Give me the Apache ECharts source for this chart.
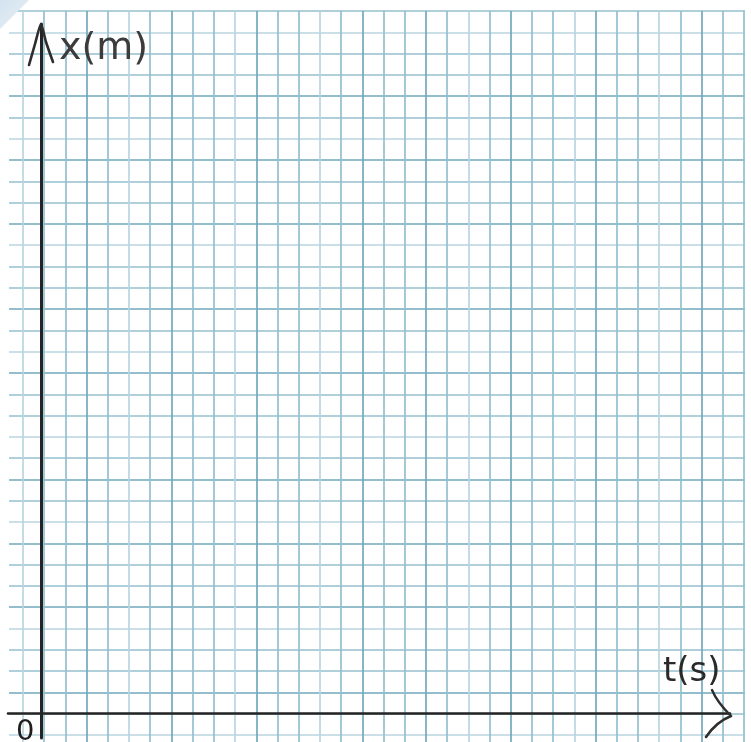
<!DOCTYPE html>
<html>
<head>
<meta charset="utf-8">
<script src="https://cdn.jsdelivr.net/npm/echarts@6/dist/echarts.min.js"></script>
<style>
  html, body { margin: 0; padding: 0; background: #ffffff; }
  #chart { width: 751px; height: 742px; }
</style>
</head>
<body>
<div id="chart"></div>
<script>
// Graph paper: number of cells along each side
const cellCount = [34];
// Axis captions and origin mark
const positionAxisName = ['x(m)'];
const timeAxisName = ['t(s)'];
const originLabel = ['0'];

// Ruling shades (light / medium / dark ink of the printed grid)
const L = '#b8d5e0', M = '#94c0cf', D = '#72a9bd';
const verticalRuleShades = [L, M, M, D, M, L, M, D, M, M, L, D, M, M, L, M, D, M, M, D, M, L, M, D, M, M, L, D, M, M, L, M, D, M, M];
const horizontalRuleShades = [L, M, D, M, M, L, D, M, M, D, L, M, D, M, L, M, M, D, L, M, D, M, M, L, D, M, M, D, L, M, D, M, M, L, M];

const chart = echarts.init(document.getElementById('chart'), null, { renderer: 'canvas' });

const hidden = { show: false };
const inkColor = '#242424';
const handFont = '"DejaVu Sans", sans-serif';

chart.setOption({
  backgroundColor: '#ffffff',
  animation: false,
  grid: [
    // vertical rulings
    { left: 23, top: 11, width: 721, height: 731 },
    // horizontal rulings
    { left: 9, top: 11, width: 736, height: 724 },
    // position axis (vertical line)
    { left: 41, top: 24, width: 10, bottom: 4 },
    // time axis (horizontal line)
    { left: 8, right: 21, height: 10, bottom: 29 }
  ],
  xAxis: [
    {
      gridIndex: 0, type: 'value', min: 0, max: cellCount[0], interval: 1,
      axisLine: hidden, axisTick: hidden, axisLabel: hidden,
      splitLine: { show: true, lineStyle: { color: verticalRuleShades, width: 1.7 } }
    },
    { gridIndex: 1, type: 'value', show: false, splitLine: hidden },
    { gridIndex: 2, type: 'value', show: false, splitLine: hidden },
    {
      gridIndex: 3, type: 'value', min: 0, max: 1, position: 'bottom',
      axisLine: { show: true, onZero: false, lineStyle: { color: inkColor, width: 2.6 } },
      axisTick: hidden, axisLabel: hidden, splitLine: hidden
    }
  ],
  yAxis: [
    { gridIndex: 0, type: 'value', show: false, splitLine: hidden },
    {
      gridIndex: 1, type: 'value', min: 0, max: cellCount[0], interval: 1,
      axisLine: hidden, axisTick: hidden, axisLabel: hidden,
      splitLine: { show: true, lineStyle: { color: horizontalRuleShades, width: 1.7 } }
    },
    {
      gridIndex: 2, type: 'value', min: 0, max: 1, position: 'left',
      axisLine: { show: true, onZero: false, lineStyle: { color: inkColor, width: 3 } },
      axisTick: hidden, axisLabel: hidden, splitLine: hidden
    },
    { gridIndex: 3, type: 'value', show: false, splitLine: hidden }
  ],
  series: [],
  graphic: [
    // folded page corner
    {
      type: 'polygon', z: 1,
      shape: { points: [[0, 0], [29, 0], [0, 29]] },
      style: {
        fill: new echarts.graphic.LinearGradient(0, 0, 1, 1, [
          { offset: 0, color: '#d3e3ef' },
          { offset: 1, color: '#e9f1f7' }
        ])
      }
    },
    // arrowhead of the position axis
    {
      type: 'polyline', z: 100,
      shape: { points: [[29, 65], [35, 44], [41, 24], [46, 42], [53, 62]], smooth: 0.2 },
      style: { stroke: '#2e2e2e', lineWidth: 2.6, fill: null, lineCap: 'round', lineJoin: 'round' }
    },
    // arrowhead of the time axis
    {
      type: 'bezierCurve', z: 100,
      shape: { x1: 712, y1: 690, cpx1: 717, cpy1: 702, x2: 731, y2: 716 },
      style: { stroke: '#2e2e2e', lineWidth: 2.4, fill: null, lineCap: 'round' }
    },
    {
      type: 'bezierCurve', z: 100,
      shape: { x1: 731, y1: 716, cpx1: 716, cpy1: 722, x2: 706, y2: 737 },
      style: { stroke: '#2e2e2e', lineWidth: 2.6, fill: null, lineCap: 'round' }
    },
    // axis captions
    {
      type: 'text', z: 100, left: 59, top: 30,
      style: { text: positionAxisName[0], font: '38px ' + handFont, fill: '#3c3c3c' }
    },
    {
      type: 'text', z: 100, left: 663, top: 655,
      style: { text: timeAxisName[0], font: '34px ' + handFont, fill: '#2a2a2a' }
    },
    {
      type: 'text', z: 100, left: 16, top: 718,
      style: { text: originLabel[0], font: '29px ' + handFont, fill: '#1e1e1e' }
    }
  ]
});
</script>
</body>
</html>
